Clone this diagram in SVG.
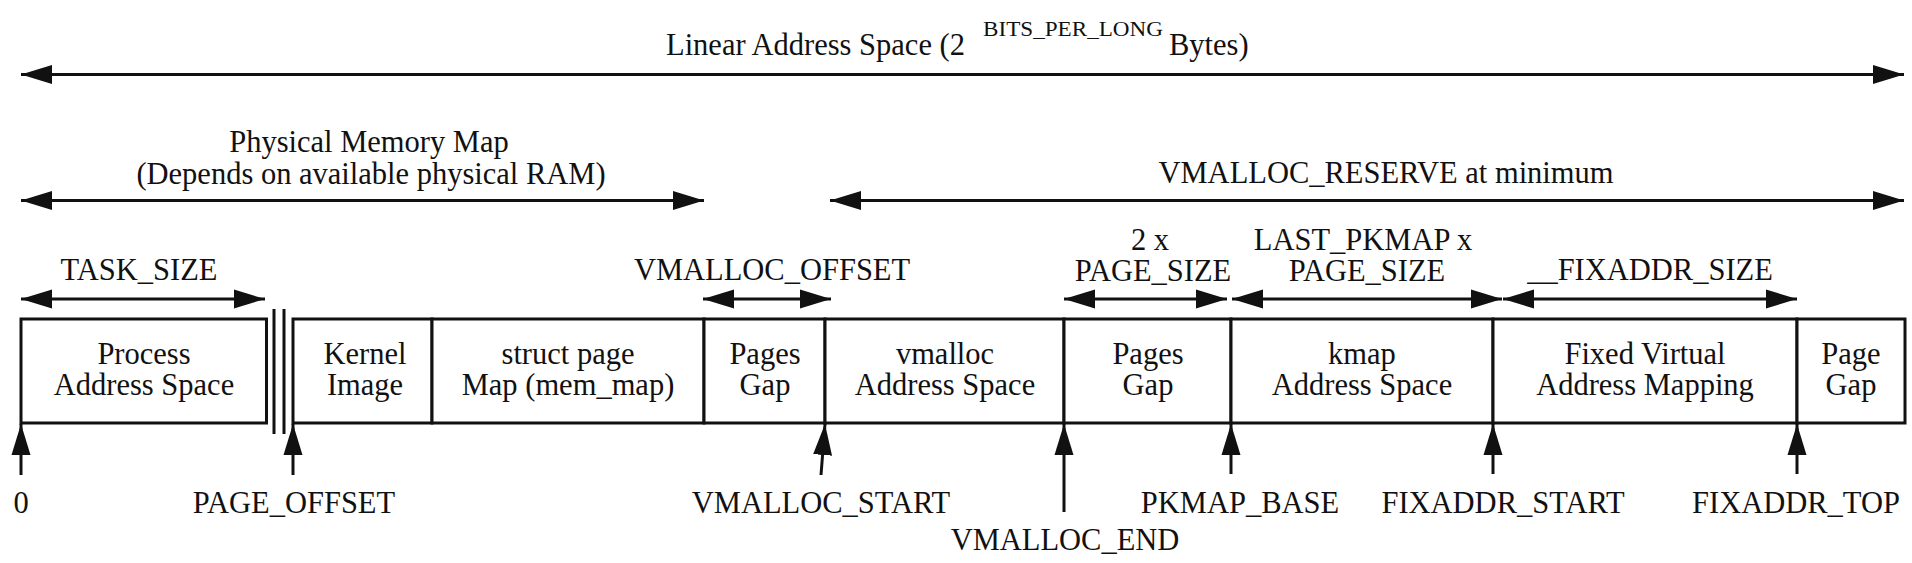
<svg xmlns="http://www.w3.org/2000/svg" width="1912" height="563" viewBox="0 0 1912 563" font-family="'Liberation Serif', 'Times New Roman', 'DejaVu Serif', serif">
<defs>
<style>
text{font-family:'Liberation Serif','Times New Roman','DejaVu Serif',serif;font-size:30.5px;fill:#111;text-anchor:middle}
.l{text-anchor:start}
.sup{font-size:22px;text-anchor:start}
.box{fill:#fff;stroke:#111;stroke-width:3}
.conn line{stroke:#111;stroke-width:3;fill:none}
.dbl{marker-start:url(#ah);marker-end:url(#ah)}
.up{marker-end:url(#ah)}
.sep{stroke:#111;stroke-width:3}
</style>
<marker id="ah" markerUnits="userSpaceOnUse" markerWidth="32" markerHeight="20" refX="31" refY="9.5" orient="auto-start-reverse" viewBox="0 0 32 19">
<path d="M0,0 L31,9.5 L0,19 z" fill="#111"/>
</marker>
</defs>
<rect width="1912" height="563" fill="#fff"/>

<g id="title">
<text class="l" x="666" y="55">Linear Address Space (2</text>
<text class="sup" x="983" y="36" textLength="180" lengthAdjust="spacingAndGlyphs">BITS_PER_LONG</text>
<text class="l" x="1169" y="55">Bytes)</text>
</g>
<g id="label-physical">
<text x="369" y="152">Physical Memory Map</text>
<text x="371" y="183.5">(Depends on available physical RAM)</text>
</g>
<g id="label-vmalloc-reserve"><text x="1386" y="183">VMALLOC_RESERVE at minimum</text></g>
<g id="label-task-size"><text x="139" y="280">TASK_SIZE</text></g>
<g id="label-vmalloc-offset"><text x="772" y="280">VMALLOC_OFFSET</text></g>
<g id="label-2x"><text x="1150" y="250">2 x</text><text x="1153" y="281">PAGE_SIZE</text></g>
<g id="label-last-pkmap"><text x="1363" y="250">LAST_PKMAP x</text><text x="1367" y="281">PAGE_SIZE</text></g>
<g id="label-fixaddr-size"><text x="1650" y="280">__FIXADDR_SIZE</text></g>

<g id="process">
<rect class="box" x="21" y="319" width="245.5" height="104"/>
<text x="144" y="363.5">Process</text><text x="144" y="394.5">Address Space</text>
</g>
<g id="break">
<line class="sep" x1="274" y1="309" x2="274" y2="434"/>
<line class="sep" x1="284" y1="309" x2="284" y2="434"/>
</g>
<g id="kernel">
<rect class="box" x="293" y="319" width="139" height="104"/>
<text x="365" y="363.5">Kernel</text><text x="365" y="394.5">Image</text>
</g>
<g id="mem-map">
<rect class="box" x="432" y="319" width="272" height="104"/>
<text x="568" y="363.5">struct page</text><text x="568" y="394.5">Map (mem_map)</text>
</g>
<g id="pages-gap-1">
<rect class="box" x="704" y="319" width="121" height="104"/>
<text x="765" y="363.5">Pages</text><text x="765" y="394.5">Gap</text>
</g>
<g id="vmalloc">
<rect class="box" x="825" y="319" width="239" height="104"/>
<text x="945" y="363.5">vmalloc</text><text x="945" y="394.5">Address Space</text>
</g>
<g id="pages-gap-2">
<rect class="box" x="1064" y="319" width="167" height="104"/>
<text x="1148" y="363.5">Pages</text><text x="1148" y="394.5">Gap</text>
</g>
<g id="kmap">
<rect class="box" x="1231" y="319" width="262" height="104"/>
<text x="1362" y="363.5">kmap</text><text x="1362" y="394.5">Address Space</text>
</g>
<g id="fixed">
<rect class="box" x="1493" y="319" width="304" height="104"/>
<text x="1645" y="363.5">Fixed Virtual</text><text x="1645" y="394.5">Address Mapping</text>
</g>
<g id="page-gap">
<rect class="box" x="1797" y="319" width="108" height="104"/>
<text x="1851" y="363.5">Page</text><text x="1851" y="394.5">Gap</text>
</g>

<g id="bottom-labels">
<text x="21" y="513">0</text>
<text x="294" y="513">PAGE_OFFSET</text>
<text x="821" y="513">VMALLOC_START</text>
<text x="1065" y="550">VMALLOC_END</text>
<text x="1240" y="513">PKMAP_BASE</text>
<text x="1503" y="513">FIXADDR_START</text>
<text x="1796" y="513">FIXADDR_TOP</text>
</g>

<g id="connectors" class="conn">
<line class="dbl" x1="21" y1="74.5" x2="1904" y2="74.5"/>
<line class="dbl" x1="21" y1="200.5" x2="704" y2="200.5"/>
<line class="dbl" x1="830" y1="200.5" x2="1904" y2="200.5"/>
<line class="dbl" x1="21" y1="299" x2="265" y2="299"/>
<line class="dbl" x1="703" y1="299" x2="831" y2="299"/>
<line class="dbl" x1="1064" y1="299" x2="1227" y2="299"/>
<line class="dbl" x1="1232" y1="299" x2="1502" y2="299"/>
<line class="dbl" x1="1503" y1="299" x2="1797" y2="299"/>
<line class="up" x1="21" y1="475" x2="21" y2="424"/>
<line class="up" x1="293" y1="475" x2="293" y2="424"/>
<line class="up" x1="821" y1="475" x2="825" y2="424"/>
<line class="up" x1="1064" y1="512" x2="1064" y2="424"/>
<line class="up" x1="1231" y1="474" x2="1231" y2="424"/>
<line class="up" x1="1493" y1="474" x2="1493" y2="424"/>
<line class="up" x1="1797" y1="474" x2="1797" y2="424"/>
</g>
</svg>
